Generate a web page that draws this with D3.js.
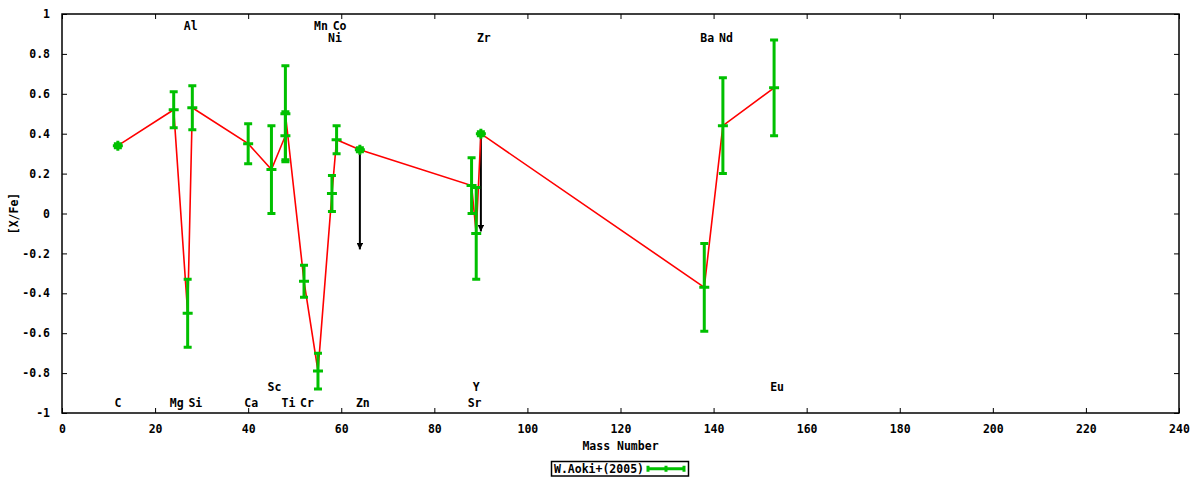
<!DOCTYPE html>
<html>
<head>
<meta charset="utf-8">
<script src="https://d3js.org/d3.v7.min.js"></script>
<style>
  body { margin: 0; background: #fff; }
  text { font-family: "DejaVu Sans Mono", monospace; font-weight: bold; font-size: 11.5px; fill: #000; }
  .line { fill: none; stroke: #ff0000; stroke-width: 1.6; }
  .err { stroke: #00c000; stroke-width: 3; fill: none; }
  .lim { stroke: #000; stroke-width: 2; }
</style>
</head>
<body>
<div id="chart"></div>
<script>
// measured abundances, sorted by mass number
var elements = ["C", "Mg", "Al", "Si", "Ca", "Sc", "Ti", "Ti", "Cr", "Mn", "Ni", "Co", "Zn", "Sr", "Y", "Zr", "Ba", "Nd", "Eu"];
var massNumber = [12, 24, 27, 28, 40, 45, 48, 48, 52, 55, 58, 59, 64, 88, 89, 90, 138, 142, 153];
var xFe = [0.34, 0.52, -0.50, 0.53, 0.35, 0.22, 0.39, 0.50, -0.34, -0.79, 0.10, 0.37, 0.32, 0.14, -0.10, 0.40, -0.37, 0.44, 0.63];
var xFeErr = [0.01, 0.09, 0.17, 0.11, 0.10, 0.22, 0.12, 0.24, 0.08, 0.09, 0.09, 0.07, 0.01, 0.14, 0.23, 0.01, 0.22, 0.24, 0.24];

// upper limits (arrows)
var limitMass = [64, 90];
var limitFrom = [0.32, 0.40];
var limitTo = [-0.18, -0.09];

// element name labels
var labelText = ["Al", "Mn", "Co", "Ni", "Zr", "Ba", "Nd", "Sc", "Y", "Eu", "C", "Mg", "Si", "Ca", "Ti", "Cr", "Zn", "Sr"];
var labelMass = [27, 55, 59, 58, 90, 138, 142, 45, 89, 153, 12, 24, 28, 40, 48, 52, 64, 88];
var labelY = [0.94, 0.94, 0.94, 0.88, 0.88, 0.88, 0.88, -0.87, -0.87, -0.87, -0.95, -0.95, -0.95, -0.95, -0.95, -0.95, -0.95, -0.95];

var xTicks = [0, 20, 40, 60, 80, 100, 120, 140, 160, 180, 200, 220, 240];
var yTicks = [-1, -0.8, -0.6, -0.4, -0.2, 0, 0.2, 0.4, 0.6, 0.8, 1];
var legendTitle = "W.Aoki+(2005)";

var W = 1200, H = 480;
var margin = {top: 14, right: 21, bottom: 67, left: 62};

var x = d3.scaleLinear().domain([0, 240]).range([margin.left, W - margin.right]);
var y = d3.scaleLinear().domain([-1, 1]).range([H - margin.bottom, margin.top]);

var svg = d3.select("#chart").append("svg")
    .attr("width", W)
    .attr("height", H);

var fmt = function(d) { return String(+d.toFixed(1)); };

// ticks inward on all four sides
var tl = 5;
svg.append("g")
    .attr("transform", "translate(0," + y(-1) + ")")
    .call(d3.axisBottom(x).tickValues(xTicks).tickSize(-tl).tickPadding(12).tickFormat(fmt))
    .call(function(g) { g.select(".domain").remove(); });
svg.append("g")
    .attr("transform", "translate(0," + y(1) + ")")
    .call(d3.axisTop(x).tickValues(xTicks).tickSize(-tl).tickFormat(""))
    .call(function(g) { g.select(".domain").remove(); });
svg.append("g")
    .attr("transform", "translate(" + x(0) + ",0)")
    .call(d3.axisLeft(y).tickValues(yTicks).tickSize(-tl).tickPadding(12).tickFormat(fmt))
    .call(function(g) { g.select(".domain").remove(); });
svg.append("g")
    .attr("transform", "translate(" + x(240) + ",0)")
    .call(d3.axisRight(y).tickValues(yTicks).tickSize(-tl).tickFormat(""))
    .call(function(g) { g.select(".domain").remove(); });

svg.selectAll(".tick line").attr("stroke", "#000").attr("stroke-width", 1);
svg.selectAll(".tick text")
    .style("font-family", "DejaVu Sans Mono")
    .style("font-weight", "bold")
    .style("font-size", "11.5px")
    .attr("fill", "#000");

svg.append("rect")
    .attr("x", x(0))
    .attr("y", y(1))
    .attr("width", x(240) - x(0))
    .attr("height", y(-1) - y(1))
    .attr("fill", "none")
    .attr("stroke", "#000")
    .attr("stroke-width", 1.5);

// axis titles
svg.append("text")
    .attr("x", (x(0) + x(240)) / 2)
    .attr("y", 450)
    .attr("text-anchor", "middle")
    .text("Mass Number");

svg.append("text")
    .attr("transform", "translate(18," + y(0) + ") rotate(-90)")
    .attr("text-anchor", "middle")
    .text("[X/Fe]");

// element labels
svg.selectAll(".elabel")
    .data(labelText)
    .enter().append("text")
    .attr("class", "elabel")
    .attr("x", function(d, i) { return x(labelMass[i]) + (d.length % 2 === 0 ? 3 : 0); })
    .attr("y", function(d, i) { return y(labelY[i]); })
    .attr("dy", "0.36em")
    .attr("text-anchor", "middle")
    .text(function(d) { return d; });

// upper-limit arrows
svg.append("defs").append("marker")
    .attr("id", "head")
    .attr("viewBox", "0 0 10 10")
    .attr("refX", 10)
    .attr("refY", 5)
    .attr("markerWidth", 3.2)
    .attr("markerHeight", 3.2)
    .attr("orient", "auto")
    .append("path")
    .attr("d", "M0,0L10,5L0,10z")
    .attr("fill", "#000");

svg.selectAll(".lim")
    .data(limitMass)
    .enter().append("line")
    .attr("class", "lim")
    .attr("x1", function(d) { return x(d); })
    .attr("x2", function(d) { return x(d); })
    .attr("y1", function(d, i) { return y(limitFrom[i]); })
    .attr("y2", function(d, i) { return y(limitTo[i]); })
    .attr("marker-end", "url(#head)");

// connecting line
var idx = d3.range(massNumber.length);
var line = d3.line()
    .x(function(i) { return x(massNumber[i]); })
    .y(function(i) { return y(xFe[i]); });

svg.append("path")
    .datum(idx)
    .attr("class", "line")
    .attr("d", line);

// error bars
var cap = 4, pt = 5;
var eb = svg.selectAll(".eb")
    .data(idx)
    .enter().append("g")
    .attr("class", "eb");

eb.append("path")
    .attr("class", "err")
    .attr("d", function(i) {
        var cx = x(massNumber[i]), cy = y(xFe[i]);
        var y1 = y(xFe[i] + xFeErr[i]), y2 = y(xFe[i] - xFeErr[i]);
        return "M" + cx + "," + y1 + "V" + y2 +
            "M" + (cx - cap) + "," + y1 + "H" + (cx + cap) +
            "M" + (cx - cap) + "," + y2 + "H" + (cx + cap) +
            "M" + (cx - pt) + "," + cy + "H" + (cx + pt) +
            "M" + cx + "," + (cy - pt) + "V" + (cy + pt);
    });

// legend
var lx1 = 551.5, lx2 = 688.5, ly1 = 461.5, ly2 = 476;
svg.append("rect")
    .attr("x", lx1)
    .attr("y", ly1)
    .attr("width", lx2 - lx1)
    .attr("height", ly2 - ly1)
    .attr("fill", "none")
    .attr("stroke", "#000")
    .attr("stroke-width", 1.5);

svg.append("text")
    .attr("x", 644)
    .attr("y", (ly1 + ly2) / 2)
    .attr("dy", "0.36em")
    .attr("text-anchor", "end")
    .text(legendTitle);

var sy = (ly1 + ly2) / 2;
svg.append("path")
    .attr("class", "err")
    .attr("d", "M648," + sy + "H684" +
        "M648," + (sy - 3) + "V" + (sy + 3) +
        "M684," + (sy - 3) + "V" + (sy + 3) +
        "M666," + (sy - 3) + "V" + (sy + 3));
</script>
</body>
</html>
